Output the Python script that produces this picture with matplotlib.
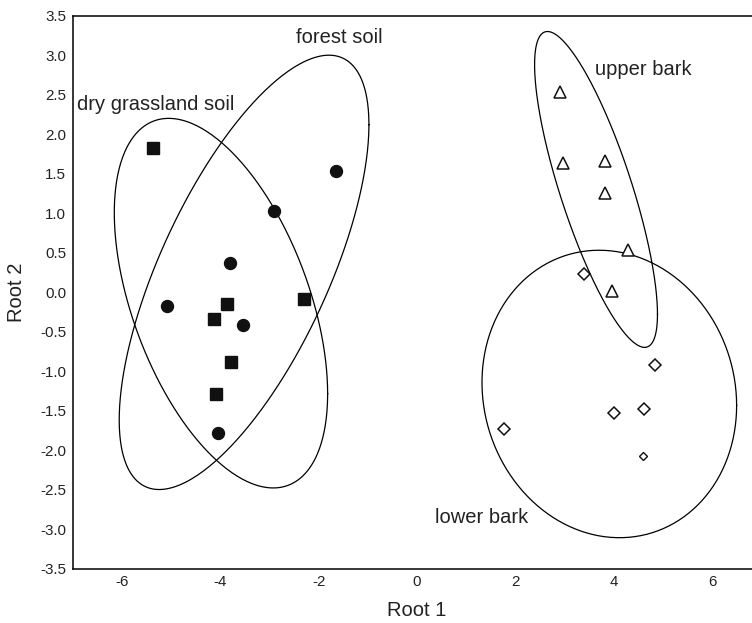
import numpy as np
import matplotlib
matplotlib.use("Agg")
import matplotlib.pyplot as plt
from matplotlib.ticker import FormatStrFormatter

plt.rcParams['font.family'] = ['Liberation Sans', 'DejaVu Sans']
plt.rcParams['axes.unicode_minus'] = False

# ---- data (Root 1, Root 2 scores) ----
dry_x = [-5.37, -3.87, -4.13, -3.79, -4.09, -2.30]
dry_y = [1.82, -0.15, -0.34, -0.89, -1.29, -0.09]
forest_x = [-1.65, -2.92, -3.81, -5.09, -3.54, -4.06]
forest_y = [1.53, 1.03, 0.37, -0.18, -0.42, -1.79]
upper_x = [2.91, 2.97, 3.82, 3.82, 4.29, 3.97]
upper_y = [2.54, 1.63, 1.66, 1.25, 0.53, 0.01]
lower_x = [3.40, 4.83, 4.01, 4.62, 1.77]
lower_y = [0.23, -0.92, -1.53, -1.48, -1.73]
lower_small_x = [4.59]
lower_small_y = [-2.07]

# ---- group ellipses: centre x, centre y, half-extent x, half-extent y, correlation ----
ell_names = ['dry grassland soil', 'forest soil', 'upper bark', 'lower bark']
ell_cx = [-3.99, -3.52, 3.64, 3.91]
ell_cy = [-0.14, 0.25, 1.30, -1.29]
ell_sx = [2.17, 2.54, 1.25, 2.59]
ell_sy = [2.34, 2.75, 2.00, 1.82]
ell_r = [-0.49, 0.68, -0.79, -0.08]

# ---- labels ----
label_text = ['dry grassland soil', 'forest soil', 'upper bark', 'lower bark']
label_x = [-6.925, -2.46, 3.62, 0.366]
label_y = [2.306, 3.154, 2.75, -2.92]

x_ticks = [-6, -4, -2, 0, 2, 4, 6]
y_ticks = [-3.5, -3.0, -2.5, -2.0, -1.5, -1.0, -0.5, 0.0, 0.5, 1.0, 1.5, 2.0, 2.5, 3.0, 3.5]

fig = plt.figure(figsize=(7.52, 6.23), dpi=100)
ax = fig.add_axes([73/752, 54.5/623, (761.2-73)/752, (568.5-15.7)/623])
ax.set_xlim(-7, 7)
ax.set_ylim(-3.5, 3.5)

t = np.linspace(0, 2*np.pi, 400)
for cx, cy, sx, sy, r in zip(ell_cx, ell_cy, ell_sx, ell_sy, ell_r):
    S = np.array([[sx*sx, r*sx*sy], [r*sx*sy, sy*sy]])
    L = np.linalg.cholesky(S)
    pts = L @ np.vstack([np.cos(t), np.sin(t)])
    ax.plot(cx + pts[0], cy + pts[1], color='black', lw=0.9)

ax.plot(dry_x, dry_y, 's', color='#111111', ms=8.6, ls='none')
ax.plot(forest_x, forest_y, 'o', color='#111111', ms=8.6, ls='none')
ax.plot(upper_x, upper_y, '^', mfc='white', mec='#111111', mew=1.1, ms=8.5, ls='none')
ax.plot(lower_x, lower_y, 'D', mfc='white', mec='#111111', mew=1.1, ms=6.0, ls='none')
ax.plot(lower_small_x, lower_small_y, 'D', mfc='white', mec='#111111', mew=1.0, ms=4.2, ls='none')

for s, x, y in zip(label_text, label_x, label_y):
    ax.text(x, y, s, fontsize=14.5, va='baseline', color='#222222')

ax.set_xticks(x_ticks)
ax.set_yticks(y_ticks)
ax.yaxis.set_major_formatter(FormatStrFormatter('%.1f'))
ax.tick_params(length=0, labelsize=10.9, pad=5, colors='#222222')
ax.set_xlabel('Root 1', fontsize=14.5, labelpad=8, color='#222222')
ax.set_ylabel('Root 2', fontsize=14.5, labelpad=10, color='#222222')
ax.spines['right'].set_visible(False)
for s in ['left', 'bottom', 'top']:
    ax.spines[s].set_linewidth(1.1)

fig.savefig('out.png', dpi=100)
